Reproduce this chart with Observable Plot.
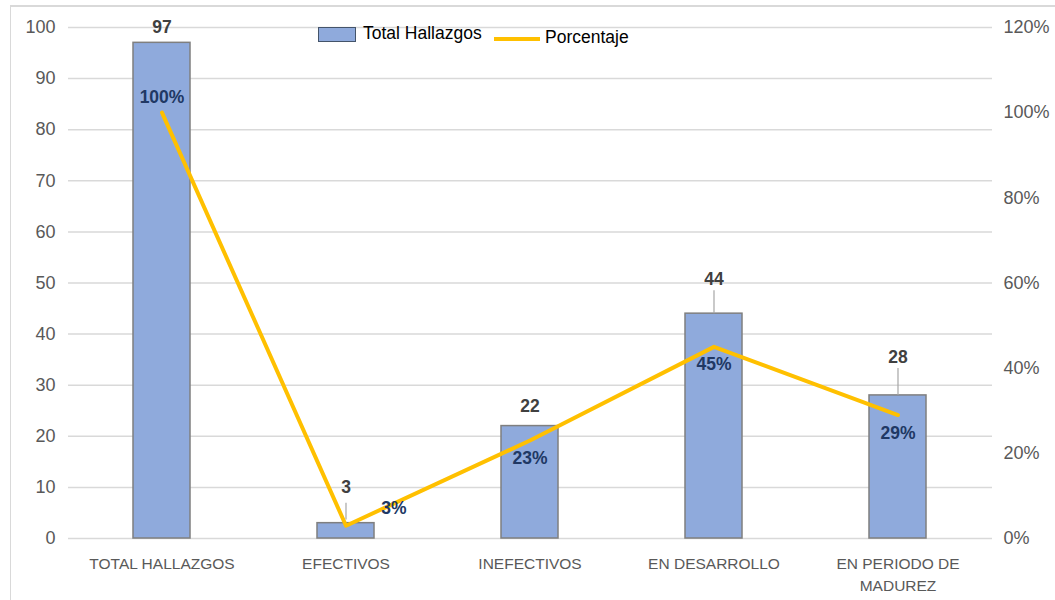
<!DOCTYPE html>
<html><head><meta charset="utf-8">
<script src="https://cdn.jsdelivr.net/npm/d3@7"></script>
<script src="https://cdn.jsdelivr.net/npm/@observablehq/plot@0.6"></script>
<style>
body{margin:0;background:#fff;font-family:"Liberation Sans",Arial,sans-serif;}
#wrap{position:relative;width:1055px;height:600px;overflow:hidden;background:#fff;}
#frame{position:absolute;left:10px;top:5px;width:1060px;height:600px;border-left:1.5px solid #d9d9d9;border-top:2px solid #d9d9d9;pointer-events:none;}
#chart{position:absolute;left:0;top:0;}
.lg{position:absolute;font-size:17.5px;color:#000;line-height:1;white-space:nowrap;}
</style>
</head><body>
<div id="wrap">
  <div id="frame"></div>
  <div id="chart"></div>
  <div id="legend">
    <div style="position:absolute;left:318px;top:27px;width:36px;height:13px;background:#8faadc;border:1.5px solid #44546a;"></div>
    <div class="lg" style="left:363px;top:25px;">Total Hallazgos</div>
    <div style="position:absolute;left:494px;top:37px;width:46px;height:4px;background:#ffc000;"></div>
    <div class="lg" style="left:545px;top:29px;">Porcentaje</div>
  </div>
</div>
<script>
const categories = ["TOTAL HALLAZGOS", "EFECTIVOS", "INEFECTIVOS", "EN DESARROLLO", "EN PERIODO DE\nMADUREZ"];
const totals = [97, 3, 22, 44, 28];
const percentages = [100, 3, 23, 45, 29];
const leftTicks = [0, 10, 20, 30, 40, 50, 60, 70, 80, 90, 100];
const rightTicks = [0, 20, 40, 60, 80, 100, 120];
const rightMax = 120;

const rows = categories.map((c, i) => ({cat: c, total: totals[i], pct: percentages[i]}));
const toLeft = p => p * 100 / rightMax;

// label layout (pixel offsets)
const valueDy = [-15, -36, -20, -34, -38];
const pctDx = [0, 48, 0, 0, 0];
const pctDy = [-15, -17, 18, 18, 18];
const leaderPx = [0, 20, 0, 23, 27];
const pxPerUnit = 511 / 100;

const font = '"Liberation Sans", Arial, sans-serif';
const marks = [
  Plot.gridY(leftTicks, {stroke: "#d9d9d9", strokeOpacity: 1, strokeWidth: 1.5}),
  Plot.axisY(leftTicks, {anchor: "left", tickSize: 0, tickPadding: 13, fontSize: 18, color: "#595959", label: null}),
  Plot.axisY(rightTicks.map(toLeft), {anchor: "right", tickSize: 0, tickPadding: 11, fontSize: 18, color: "#595959", label: null, textAnchor: "start", tickFormat: d => Math.round(d * rightMax / 100) + "%"}),
  Plot.axisX({tickSize: 0, tickPadding: 15, fontSize: 15.5, color: "#595959", label: null, lineHeight: 1.4}),
  Plot.barY(rows, {x: "cat", y: "total", fill: "#8faadc", stroke: "#7f7f7f", strokeWidth: 1.5}),
  Plot.ruleX(rows.filter((r, i) => leaderPx[i] > 0), {
    x: "cat",
    y1: d => d.total + (d.total < 5 ? 0.6 : 0),
    y2: d => d.total + leaderPx[rows.indexOf(d)] / pxPerUnit,
    stroke: "#a6a6a6", strokeWidth: 1.2
  }),
  Plot.line(rows, {x: "cat", y: d => toLeft(d.pct), stroke: "#ffc000", strokeWidth: 4}),
];
rows.forEach((r, i) => {
  marks.push(Plot.text([r], {x: "cat", y: "total", text: d => String(d.total), dy: valueDy[i], fontWeight: "bold", fontSize: 17.5, fill: "#404040"}));
  marks.push(Plot.text([r], {x: "cat", y: d => toLeft(d.pct), text: d => d.pct + "%", dx: pctDx[i], dy: pctDy[i], fontWeight: "bold", fontSize: 17.5, fill: "#203864"}));
});

const chart = Plot.plot({
  width: 1055, height: 600,
  marginTop: 27, marginBottom: 62, marginLeft: 68, marginRight: 63,
  style: {fontFamily: font, background: "transparent", overflow: "visible"},
  x: {domain: categories, paddingInner: 0.69, paddingOuter: 0.345, axis: null},
  y: {domain: [0, 100], axis: null},
  marks
});
document.getElementById("chart").appendChild(chart);
</script>
</body></html>
